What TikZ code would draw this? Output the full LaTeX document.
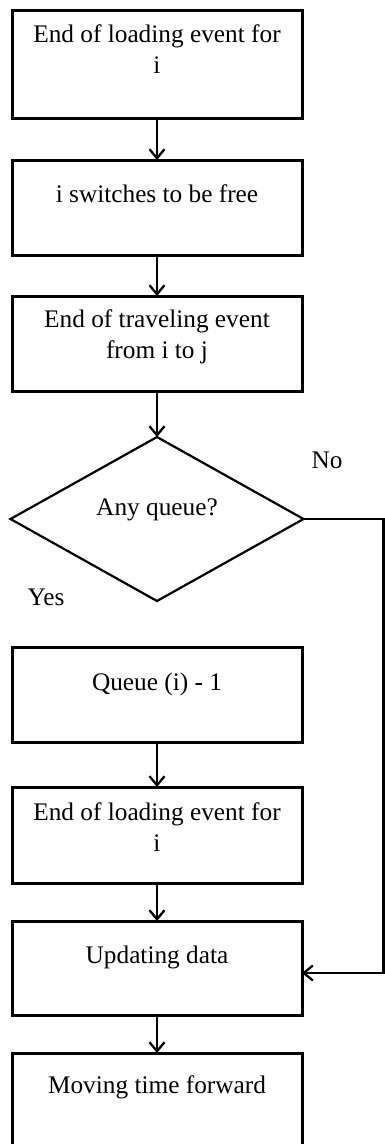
\documentclass[tikz,border=0pt]{standalone}
\usepackage{fontspec}
\setmainfont{Liberation Serif}
\usetikzlibrary{positioning,shapes.geometric,arrows.meta}
\tikzset{node distance=42pt, auto,
  stepbox/.style={draw, line width=3pt, minimum width=290pt, inner sep=0pt, outer sep=0pt},
  decision/.style={diamond, draw, line width=2.2pt, minimum width=293pt, minimum height=164pt, inner sep=0pt, outer sep=0pt},
  txt/.style={align=center, anchor=base, inner sep=0pt, font=\fontsize{25.3}{31}\selectfont},
  link/.style={->, line width=2.3pt, >={Straight Barb[length=9pt,width=15pt]}}}

\begin{document}
\begin{tikzpicture}[x=1pt,y=-1pt]
  \useasboundingbox (0,0) rectangle (384,1144);

           \node[stepbox, minimum height=108pt] (load) at (157,64) {};
           \node[stepbox, minimum height=95pt] (free) [below=42pt of load] {};
           \node[stepbox, minimum height=95pt] (travel) [below=41pt of free] {};
           \node[decision] (anyq) [below=46pt of travel] {};
           \node[stepbox, minimum height=95pt] (dequeue) [below=46pt of anyq] {};
           \node[stepbox, minimum height=96pt] (reload) [below=45pt of dequeue] {};
           \node[stepbox, minimum height=94pt] (update) [below=38pt of reload] {};
           \node[stepbox, minimum height=98pt] (move) [below=38pt of update] {};

           % texts sit near the top of each box (base = last line)
           \node[txt] at ([yshift=-63pt]load.north) {End of loading event for\\ i};
           \node[txt] at ([yshift=-42pt]free.north) {i switches to be free};
           \node[txt] at ([yshift=-62pt]travel.north) {End of traveling event\\ from i to j};
           \node[txt] at ([yshift=4pt]anyq.center) {Any queue?};
           \node[txt] at ([yshift=-43pt]dequeue.north) {Queue (i) - 1};
           \node[txt] at ([yshift=-64pt]reload.north) {End of loading event for\\ i};
           \node[txt] at ([yshift=-42pt]update.north) {Updating data};
           \node[txt] at ([yshift=-40pt]move.north) {Moving time forward};

           \node[txt] (no) at (327,468) {No};
           \node[txt] (yes) at (46,605) {Yes};

           \coordinate (back) at (383.5,973);
           \coordinate (turn) at (anyq.east -| back);

           \draw[link] (load) -- (free);
           \draw[link] (free) -- (travel);
           \draw[link] (travel) -- (anyq);
           \draw[link] (dequeue) -- (reload);
           \draw[link] (reload) -- (update);
           \draw[link] (update) -- (move);
           \draw[link] (anyq.east) -- (turn) -- (back) -- (update.east |- back);

         \end{tikzpicture}
\end{document}
